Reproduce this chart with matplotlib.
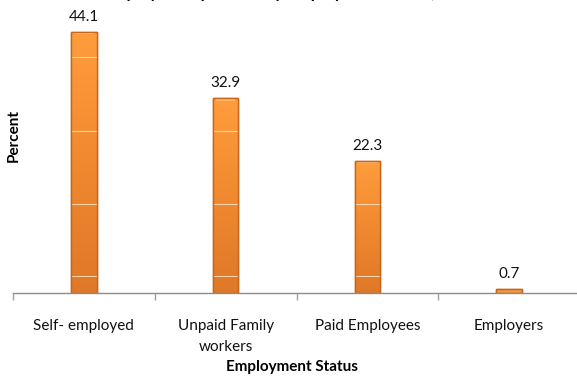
import numpy as np
import matplotlib
matplotlib.use("Agg")
import matplotlib.pyplot as plt
from matplotlib.colors import LinearSegmentedColormap

categories = ["Self- employed", "Unpaid Family\nworkers", "Paid Employees", "Employers"]
values = [44.1, 32.9, 22.3, 0.7]
value_labels = ["44.1", "32.9", "22.3", "0.7"]
x_title = "Employment Status"
y_title = "Percent"
chart_title = "Employed Population by Employment Status, 2011"

plt.rcParams['font.family'] = ['Lato', 'DejaVu Sans']

W, H = 577, 376
fig = plt.figure(figsize=(W / 100, H / 100), dpi=100)
left_px, right_px, base_px, top_px = 13, 580, 293, -3
ax = fig.add_axes([left_px / W, 1 - base_px / H, (right_px - left_px) / W, (base_px - top_px) / H])

x = np.arange(len(categories))
ax.set_xlim(-0.5, len(categories) - 0.5)
ax.set_ylim(0, 50)

bar_w = 0.18
cmap = LinearSegmentedColormap.from_list("orange", ["#DF7828", "#F0892F", "#FF9D3D"])
grad = np.linspace(0, 1, 256).reshape(-1, 1)
bars = ax.bar(x, values, width=bar_w, color="#F28C32", edgecolor="#C8651C", linewidth=1.0, zorder=2)
grid_levels = [2.8, 15.1, 27.4, 39.8]
for i, b in enumerate(bars):
    x0, y0 = b.get_x(), b.get_y()
    w, h = b.get_width(), b.get_height()
    if h > 1:
        im = ax.imshow(grad, cmap=cmap, aspect="auto", origin="lower",
                       extent=[x0, x0 + w, y0, y0 + h], zorder=2.1)
        im.set_clip_path(b)
        ax.plot([x0 + w * 0.12, x0 + w * 0.88], [y0 + h - 0.25, y0 + h - 0.25],
                color="#FFC27A", lw=1.2, zorder=2.3, solid_capstyle="butt")
    else:
        b.set_facecolor("#F5A040")
    for g in grid_levels:
        if g < h:
            ax.plot([x0, x0 + w], [g, g], color="#FCD3AA", lw=0.8, zorder=2.35)
    ax.add_patch(plt.Rectangle((x0, y0), w, h, fill=False, edgecolor="#C8651C", lw=1.0, zorder=2.4))
    ax.text(x0 + w / 2, h + 1.4, value_labels[i],
            ha="center", va="bottom", fontsize=11, color="#111111")

ax.set_xticks(x - 0.5, minor=False)
ax.set_xticks(x, minor=True)
ax.set_xticklabels([""] * len(x))
ax.set_xticklabels(categories, minor=True, fontsize=11, color="#111111", linespacing=1.6)
ax.tick_params(axis="x", which="major", length=5, color="#A0A0A0", width=1)
ax.tick_params(axis="x", which="minor", length=0, pad=19)
ax.set_yticks([])

for s in ["top", "right", "left"]:
    ax.spines[s].set_visible(False)
ax.spines["bottom"].set_color("#8C8C8C")
ax.spines["bottom"].set_linewidth(1.0)

fig.text(292 / W, 1 - 367 / H, x_title, ha="center", va="center", fontsize=11, fontweight="bold")
fig.text(14 / W, 1 - 135 / H, y_title, ha="center", va="center", rotation=90, fontsize=11, fontweight="bold")
fig.text(290 / W, 1 + 2 / H, chart_title, ha="center", va="baseline", fontsize=12, fontweight="bold")

fig.savefig("out.png", dpi=100)
